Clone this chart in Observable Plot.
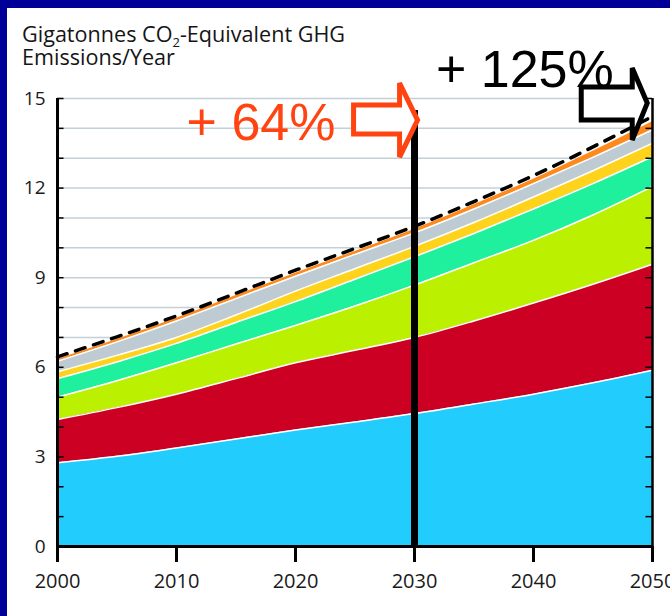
<!DOCTYPE html>
<html><head><meta charset="utf-8">
<script src="https://cdn.jsdelivr.net/npm/d3@7"></script>
<script src="https://cdn.jsdelivr.net/npm/@observablehq/plot@0.6"></script>
<style>
html,body{margin:0;padding:0;background:#fff;}
#wrap{position:relative;width:670px;height:616px;overflow:hidden;background:#fff;}
#topbar{position:absolute;left:0;top:0;width:670px;height:8px;background:#000099;}
#leftbar{position:absolute;left:0;top:0;width:7px;height:616px;background:#000099;}
#title{position:absolute;left:22px;top:22px;font-family:"Open Sans",sans-serif;font-size:21.6px;line-height:23px;color:#151515;font-weight:500;}
#title sub{font-size:13px;vertical-align:-5px;line-height:0;}
#chart{position:absolute;left:0;top:0;}
</style></head>
<body>
<div id="wrap">
  <div id="chart"></div>
  <div id="title">Gigatonnes CO<sub>2</sub>-Equivalent GHG<br>Emissions/Year</div>
  <div id="topbar"></div><div id="leftbar"></div>
</div>
<script>
// ---- data ----
const years = [2000, 2005, 2010, 2015, 2020, 2025, 2030, 2035, 2040, 2045, 2050];
const seriesNames = ["Layer 1", "Layer 2", "Layer 3", "Layer 4", "Layer 5", "Layer 6", "Layer 7"];
const seriesColors = ["#22cdfd", "#cc0022", "#bbf000", "#1ff09e", "#ffd21c", "#bfcbd2", "#ff8a1c"];
const layer1 = [2.80, 3.02, 3.30, 3.60, 3.90, 4.17, 4.45, 4.77, 5.10, 5.48, 5.90];
const layer2 = [1.45, 1.63, 1.80, 2.02, 2.25, 2.40, 2.55, 2.78, 3.05, 3.30, 3.55];
const layer3 = [0.75, 0.90, 1.05, 1.16, 1.25, 1.48, 1.75, 1.95, 2.10, 2.32, 2.60];
const layer4 = [0.62, 0.63, 0.65, 0.72, 0.80, 0.90, 0.95, 0.98, 1.05, 1.05, 1.00];
const layer5 = [0.23, 0.22, 0.20, 0.25, 0.35, 0.35, 0.35, 0.37, 0.40, 0.43, 0.45];
const layer6 = [0.35, 0.45, 0.55, 0.55, 0.50, 0.48, 0.45, 0.45, 0.45, 0.45, 0.45];
const layer7 = [0.07, 0.08, 0.09, 0.10, 0.10, 0.10, 0.12, 0.14, 0.15, 0.20, 0.27];
const totalLine = [6.35, 7.02, 7.72, 8.48, 9.25, 9.98, 10.72, 11.55, 12.42, 13.38, 14.40];
const yTickLabels = [0, 3, 6, 9, 12, 15];
const xTickLabels = [2000, 2010, 2020, 2030, 2040, 2050];
const gridValues = d3.range(1, 16);
const minorTicks = d3.range(0, 16);
const markerYear = 2030;
const markerTop = 14.6;
const annoText = ["+ 64%", "+ 125%"];
const annoTextX = [2010.85, 2031.8];
const annoTextY = [13.6, 15.37];
const annoColors = ["#ff4411", "#000000"];
const arrowTipX = [2030.3, 2049.6];
const arrowTipY = [14.26, 14.83];

// ---- build table ----
const layers = [layer1, layer2, layer3, layer4, layer5, layer6, layer7];
const table = [];
layers.forEach((arr, i) => arr.forEach((v, j) => table.push({year: years[j], series: seriesNames[i], value: v})));
const totals = years.map((y, j) => ({year: y, total: totalLine[j]}));
const annos = annoText.map((t, i) => ({text: t, x: annoTextX[i], y: annoTextY[i], color: annoColors[i]}));
const arrows = arrowTipX.map((x, i) => ({x, y: arrowTipY[i], color: annoColors[i]}));

const arrowShapes = [
  [[0,0],[-18,-37],[-18,-15],[-64,-15],[-64,14],[-18,14],[-18,37]],
  [[0,0],[-15,-35],[-15,-16],[-66,-16],[-66,17],[-15,17],[-15,37]]
];

function arrowMark(index, scales) {
  const g = document.createElementNS("http://www.w3.org/2000/svg", "g");
  arrows.forEach((a, i) => {
    const px = scales.x(a.x), py = scales.y(a.y);
    const p = document.createElementNS("http://www.w3.org/2000/svg", "path");
    p.setAttribute("d", "M" + arrowShapes[i].map(([dx, dy]) => (px + dx) + "," + (py + dy)).join("L") + "Z");
    p.setAttribute("fill", "white");
    p.setAttribute("stroke", a.color);
    p.setAttribute("stroke-width", 5);
    p.setAttribute("stroke-linejoin", "miter");
    g.appendChild(p);
  });
  return g;
}

const fontTick = "'Open Sans', sans-serif";
const chart = Plot.plot({
  width: 670,
  height: 616,
  marginLeft: 57,
  marginRight: 18,
  marginTop: 98,
  marginBottom: 70,
  style: {background: "transparent", overflow: "visible"},
  x: {domain: [2000, 2050]},
  y: {domain: [0, 15]},
  color: {domain: seriesNames, range: seriesColors},
  marks: [
    Plot.ruleY(gridValues, {x1: 2000, x2: 2050, stroke: "#c3d0d8", strokeWidth: 1.5}),
    Plot.areaY(table, {x: "year", y: "value", z: "series", fill: "series", order: seriesNames, curve: "monotone-x"}),
    Plot.lineY(table, Plot.stackY2({x: "year", y: "value", z: "series", order: seriesNames, filter: d => d.series !== "Layer 7", stroke: "white", strokeWidth: 1.5, curve: "monotone-x"})),
    Plot.lineY(totals, {x: "year", y: "total", stroke: "black", strokeWidth: 3.5, strokeDasharray: "10,9", curve: "monotone-x"}),
    Plot.ruleY(minorTicks, {x1: 2000, x2: 2000.55, stroke: "black", strokeWidth: 1.5}),
    Plot.ruleY(minorTicks, {x1: 2049.45, x2: 2050, stroke: "black", strokeWidth: 1.5}),
    Plot.ruleX([markerYear], {y1: 0, y2: markerTop, stroke: "black", strokeWidth: 7}),
    Plot.ruleX([2000], {y1: 0, y2: 15, stroke: "black", strokeWidth: 3}),
    Plot.ruleX([2050], {y1: 0, y2: 15, stroke: "black", strokeWidth: 2.5}),
    Plot.ruleY([0], {x1: 2000, x2: 2050, stroke: "black", strokeWidth: 3}),
    Plot.axisX({ticks: xTickLabels, tickFormat: d => String(d), tickSize: 16, tickPadding: 11, strokeWidth: 3, stroke: "black", fontSize: 20, fontFamily: fontTick, fill: "#1a1a1a", label: null}),
    Plot.axisY({ticks: yTickLabels, tickSize: 0, tickPadding: 12, fontSize: 19, fontFamily: fontTick, fill: "#1a1a1a", label: null}),
    arrowMark,
    Plot.text(annos, {x: "x", y: "y", text: "text", fill: "color", textAnchor: "start", lineAnchor: "bottom", fontSize: 52, fontFamily: "'Liberation Sans', Arial, sans-serif"})
  ]
});
document.getElementById("chart").appendChild(chart);
</script>
</body></html>
